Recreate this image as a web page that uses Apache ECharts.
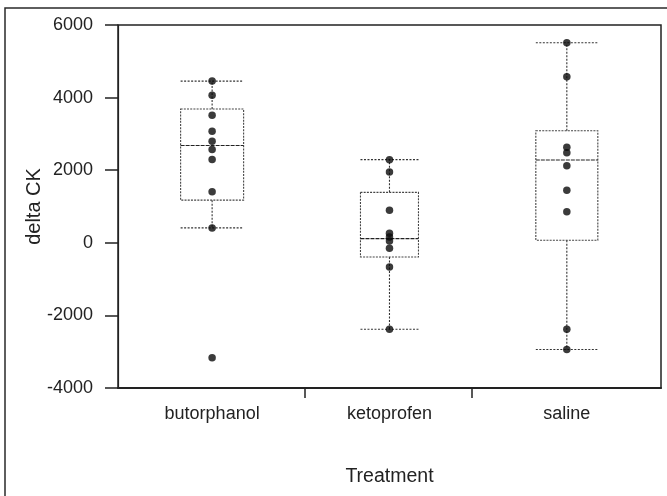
<!DOCTYPE html>
<html>
<head>
<meta charset="utf-8">
<script src="https://cdn.jsdelivr.net/npm/echarts@6/dist/echarts.min.js"></script>
<style>html,body{margin:0;padding:0;background:#fff}#c{width:667px;height:496px}</style>
</head>
<body>
<div id="c"></div>
<script>
// ---- data ----
const categories = ['butorphanol', 'ketoprofen', 'saline'];
// [lower whisker, Q1, median, Q3, upper whisker]
const butorphanolBox = [410, 1175, 2680, 3685, 4455];
const ketoprofenBox = [-2380, -390, 115, 1390, 2290];
const salineBox = [-2940, 70, 2280, 3085, 5510];
// individual observations
const butorphanolPoints = [4455, 4065, 3515, 3075, 2795, 2570, 2295, 1405, 410, -3170];
const ketoprofenPoints = [2290, 1950, 900, 260, 160, 50, -150, -665, -2380];
const salinePoints = [5510, 4575, 2630, 2480, 2120, 1450, 855, -2380, -2940];
// axis ticks
const yMin = -4000, yMax = 6000, yStep = 2000;
const xTickPositions = [0.523, 1.4625];

// ---- styling ----
const BOX_WIDTHS = [63, 58, 62];
const boxes = [butorphanolBox, ketoprofenBox, salineBox];
const pointSets = [butorphanolPoints, ketoprofenPoints, salinePoints];

const boxData = boxes.map((b, i) => [i].concat(b));
const pointData = [];
pointSets.forEach((arr, i) => arr.forEach(v => pointData.push([i, v])));

const chart = echarts.init(document.getElementById('c'), null, {renderer: 'canvas'});
const font = 'Liberation Sans, Arial, sans-serif';

chart.setOption({
  animation: false,
  backgroundColor: '#fff',
  graphic: [{
    type: 'rect', z: -1, silent: true,
    shape: {x: 5, y: 8, width: 700, height: 600},
    style: {fill: 'none', stroke: '#2a2a2a', lineWidth: 1.5}
  }],
  grid: {left: 118, right: 6, top: 25, bottom: 108, show: true, borderColor: '#222', borderWidth: 1.5, backgroundColor: 'transparent'},
  xAxis: {
    type: 'value', min: -0.5307, max: 2.531,
    name: 'Treatment', nameLocation: 'middle', nameGap: 79, nameMoveOverlap: false,
    nameTextStyle: {fontFamily: font, fontSize: 19.5, color: '#222'},
    axisLine: {show: true, onZero: false, lineStyle: {color: '#222', width: 2}},
    axisTick: {show: true, length: 10, customValues: xTickPositions, lineStyle: {color: '#222', width: 1.5}},
    axisLabel: {customValues: [0, 1, 2], formatter: v => categories[Math.round(v)], fontFamily: font, fontSize: 18, color: '#222', margin: 17},
    splitLine: {show: false}
  },
  yAxis: {
    type: 'value', min: yMin, max: yMax, interval: yStep,
    name: 'delta CK', nameLocation: 'middle', nameGap: 74, nameMoveOverlap: false,
    nameTextStyle: {fontFamily: font, fontSize: 20, color: '#222'},
    axisLine: {show: true, onZero: false, lineStyle: {color: '#222', width: 1.2}},
    axisTick: {show: true, length: 13, lineStyle: {color: '#222', width: 1.5}},
    axisLabel: {fontFamily: font, fontSize: 18, color: '#222', margin: 25, formatter: v => String(v)},
    splitLine: {show: false}
  },
  series: [{
    type: 'custom',
    data: boxData,
    encode: {x: 0, y: [1, 2, 3, 4, 5]},
    z: 2,
    renderItem: function (params, api) {
      const x = api.value(0);
      const half = BOX_WIDTHS[params.dataIndex] / 2;
      const pMin = api.coord([x, api.value(1)]);
      const pQ1 = api.coord([x, api.value(2)]);
      const pMed = api.coord([x, api.value(3)]);
      const pQ3 = api.coord([x, api.value(4)]);
      const pMax = api.coord([x, api.value(5)]);
      const cx = pMed[0];
      const dotted = {stroke: '#333', lineWidth: 1.1, lineDash: [2, 1.5], fill: 'none'};
      const boxStyle = {stroke: '#444', lineWidth: 1.1, lineDash: [2, 1.2], fill: 'none'};
      const medStyle = {stroke: '#222', lineWidth: 1.1, lineDash: [4, 1], fill: 'none'};
      return {
        type: 'group',
        children: [
          {type: 'line', shape: {x1: cx, y1: pQ3[1], x2: cx, y2: pMax[1]}, style: dotted},
          {type: 'line', shape: {x1: cx, y1: pQ1[1], x2: cx, y2: pMin[1]}, style: dotted},
          {type: 'line', shape: {x1: cx - half, y1: pMax[1], x2: cx + half, y2: pMax[1]}, style: dotted},
          {type: 'line', shape: {x1: cx - half, y1: pMin[1], x2: cx + half, y2: pMin[1]}, style: dotted},
          {type: 'rect', shape: {x: cx - half, y: pQ3[1], width: half * 2, height: pQ1[1] - pQ3[1]}, style: boxStyle},
          {type: 'line', shape: {x1: cx - half, y1: pMed[1], x2: cx + half, y2: pMed[1]}, style: medStyle}
        ]
      };
    }
  }, {
    type: 'scatter',
    data: pointData,
    symbol: 'circle',
    symbolSize: 7.5,
    z: 5,
    itemStyle: {color: '#0a0a0a'}
  }]
});
</script>
</body>
</html>
